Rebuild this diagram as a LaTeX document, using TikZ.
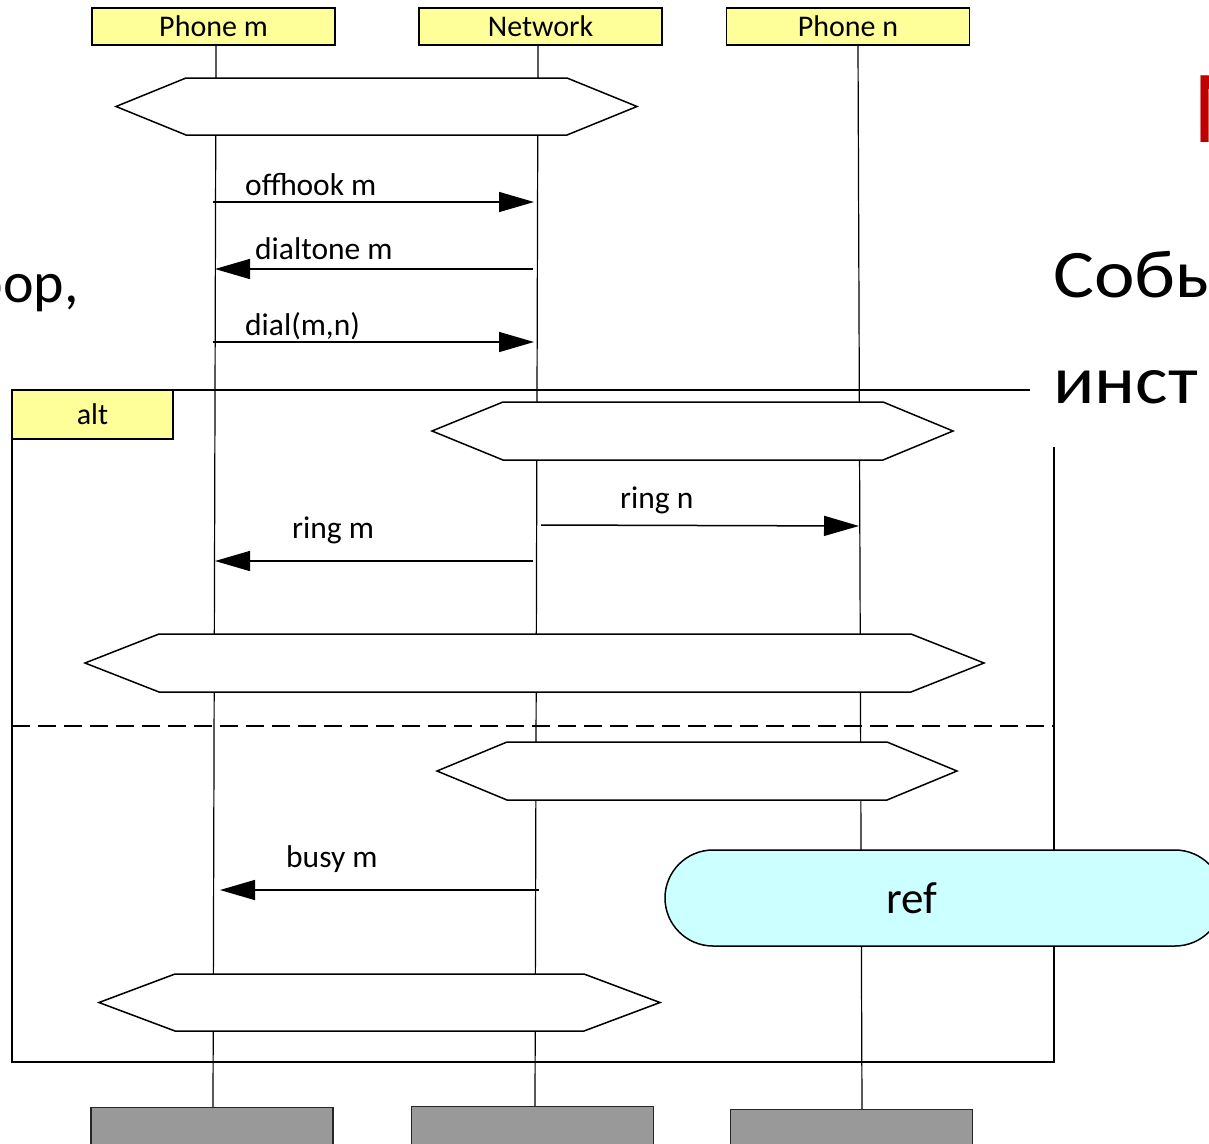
\documentclass[tikz,border=0pt]{standalone}
\usepackage{fontspec}
\setmainfont{Carlito}
\usetikzlibrary{arrows.meta}
\definecolor{hdr}{HTML}{FFFF99}
\definecolor{refc}{HTML}{CCFFFF}
\definecolor{footc}{HTML}{999999}
\definecolor{titlered}{HTML}{C00000}
\begin{document}
\begin{tikzpicture}[x=1pt,y=-1pt,
  head/.style={draw,line width=1.2pt,fill=hdr,minimum width=243pt,minimum height=37pt,inner sep=0pt,font=\fontsize{30}{30}\selectfont},
  altlab/.style={draw,line width=1.2pt,fill=hdr,minimum width=161pt,minimum height=49pt,inner sep=0pt,font=\fontsize{30}{30}\selectfont},
  foot/.style={draw=black!85,line width=1.2pt,fill=footc,minimum width=242pt,minimum height=50pt,inner sep=0pt,anchor=north},
  life/.style={line width=1.2pt},
  hexs/.style={draw,fill=white,line width=1.5pt,line join=miter},
  msg/.style={line width=1.5pt,-{Triangle[length=35pt,width=20pt]}},
  lab/.style={inner sep=0pt,anchor=base west,font=\fontsize{31.5}{31.5}\selectfont},
  frame/.style={line width=1.8pt},
  slide/.style={inner sep=0pt,font=\fontsize{68}{68}\selectfont},
]
\useasboundingbox (0,0) rectangle (1209,1143);
\clip (0,0) rectangle (1209,1143);
\fill[white] (0,0) rectangle (1209,1143);

% heads
\node[head] (hm) at (213.5,26.5) {Phone m};
\node[head] (hn) at (540.5,26.5) {Network};
\node[head] (hp) at (848,26.5) {Phone n};

% feet
\node[foot] (fm) at (212,1107) {};
\node[foot] (fn) at (532.5,1106) {};
\node[foot] (fp) at (851.5,1109) {};

% lifelines
\coordinate (mt) at (216,45);  \coordinate (mb) at (213,1107);
\coordinate (nt) at (538,45);  \coordinate (nb) at (535,1106);
\coordinate (pt) at (858,45);  \coordinate (pb) at (862,1109);
\draw[life] (mt) -- (mb);
\draw[life] (nt) -- (nb);
\draw[life] (pt) -- (pb);

% alt frame
\coordinate (fa) at (1030,390);
\coordinate (fb) at (12,390);
\coordinate (fc) at (12,1062);
\coordinate (fd) at (1054,1062);
\coordinate (fe) at (1054,447);
\draw[frame] (fa) -- (fb) -- (fc) -- (fd) -- (fe);
\coordinate (da) at (12,726);
\coordinate (db) at (1054,726);
\draw[line width=1.5pt,dash pattern=on 18pt off 8pt] (da) -- (db);
\node[altlab] (alt) at (92.5,414.5) {alt};

% conditions (hexagons)
\draw[hexs] (116,106.5) -- (186,78) -- (567,78) -- (637,106.5) -- (567,135) -- (186,135) -- cycle;
\draw[hexs] (432,431) -- (503,402) -- (883,402) -- (953,431) -- (883,460) -- (503,460) -- cycle;
\draw[hexs] (85,663) -- (159,634) -- (911,634) -- (984,663) -- (911,692) -- (159,692) -- cycle;
\draw[hexs] (437,771) -- (507,742) -- (887,742) -- (957,771) -- (887,800) -- (507,800) -- cycle;
\draw[hexs] (99,1002.5) -- (175,974) -- (584,974) -- (660,1002.5) -- (584,1031) -- (175,1031) -- cycle;

% messages
\coordinate (m1a) at (213,202); \coordinate (m1b) at (534,202);
\coordinate (m2a) at (533,269); \coordinate (m2b) at (215,269);
\coordinate (m3a) at (213,342); \coordinate (m3b) at (534,342);
\coordinate (m4a) at (541,525); \coordinate (m4b) at (859,526);
\coordinate (m5a) at (533,561); \coordinate (m5b) at (215,561);
\coordinate (m6a) at (539,890); \coordinate (m6b) at (220,890);
\draw[msg] (m1a) -- (m1b);
\draw[msg] (m2a) -- (m2b);
\draw[msg] (m3a) -- (m3b);
\draw[msg] (m4a) -- (m4b);
\draw[msg] (m5a) -- (m5b);
\draw[msg] (m6a) -- (m6b);
\node[lab] (l1) at (245,195) {offhook m};
\node[lab] (l2) at (255,259) {dialtone m};
\node[lab] (l3) at (245,335) {dial(m,n)};
\node[lab] (l4) at (620,508) {ring n};
\node[lab] (l5) at (292,538) {ring m};
\node[lab] (l6) at (286,867) {busy m};

% ref
\node[draw,fill=refc,line width=1.5pt,rounded corners=48pt,minimum width=558pt,minimum height=96pt,inner sep=0pt] (ref) at (944,898) {};
\node[inner sep=0pt,font=\fontsize{45}{45}\selectfont] (reft) at (912,898) {ref};

% slide text overlay
\node[inner sep=0pt,anchor=base east,font=\fontsize{58}{58}\selectfont] (st1) at (79,302) {оор,};
\node[slide,anchor=base west] (st2) at (1053,297) {\scalebox{1.13}[1]{Собы}};
\node[slide,anchor=base west] (st3) at (1053,403) {\scalebox{1.13}[1]{инст}};
\node[inner sep=0pt,anchor=base west,text=titlered,font=\fontsize{104}{104}\selectfont] (title) at (1192,142) {М};
\end{tikzpicture}
\end{document}
